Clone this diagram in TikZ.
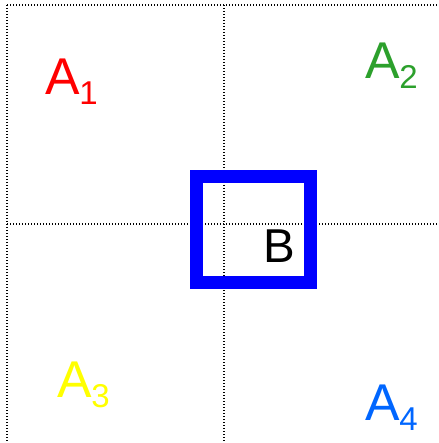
\documentclass[tikz,border=0pt]{standalone}
\usepackage{fontspec}
\setmainfont{Liberation Sans}
\definecolor{aone}{RGB}{255,0,0}
\definecolor{atwo}{RGB}{44,160,44}
\definecolor{athree}{RGB}{255,255,0}
\definecolor{afour}{RGB}{0,102,255}
\definecolor{bbox}{RGB}{0,0,255}
\newcommand{\alab}[1]{{\fontsize{51.7}{52}\selectfont A\raisebox{-10pt}{\fontsize{33}{33}\selectfont #1}}}
\tikzset{
  grid/.style={line width=1.4pt, dash pattern=on 1.4pt off 1.6pt, black},
  lab/.style={anchor=base west, inner sep=0pt, outer sep=0pt},
  boxline/.style={draw=bbox, line width=13pt},
}
\begin{document}
\begin{tikzpicture}[x=1pt,y=-1pt]
\useasboundingbox (0,0) rectangle (438,443);
\coordinate (tl) at (7,5);
\coordinate (tr) at (438,5);
\coordinate (bl) at (7,443);
\coordinate (mt) at (224,5);
\coordinate (mb) at (224,443);
\coordinate (ml) at (7,224);
\coordinate (mr) at (438,224);
\draw[grid] (tl) -- (tr);
\draw[grid] (tl) -- (bl);
\draw[grid] (mt) -- (mb);
\draw[grid] (ml) -- (mr);
\draw[boxline] (196,177) rectangle (310,282);
\node[lab, text=aone] (a1) at (45,95) {\alab{1}};
\node[lab, text=atwo] (a2) at (365,78.5) {\alab{2}};
\node[lab, text=athree] (a3) at (57,397) {\alab{3}};
\node[lab, text=afour] (a4) at (365,420) {\alab{4}};
\node[lab, text=black] (b) at (263.5,262) {\fontsize{47.5}{48}\selectfont B};
\end{tikzpicture}
\end{document}
